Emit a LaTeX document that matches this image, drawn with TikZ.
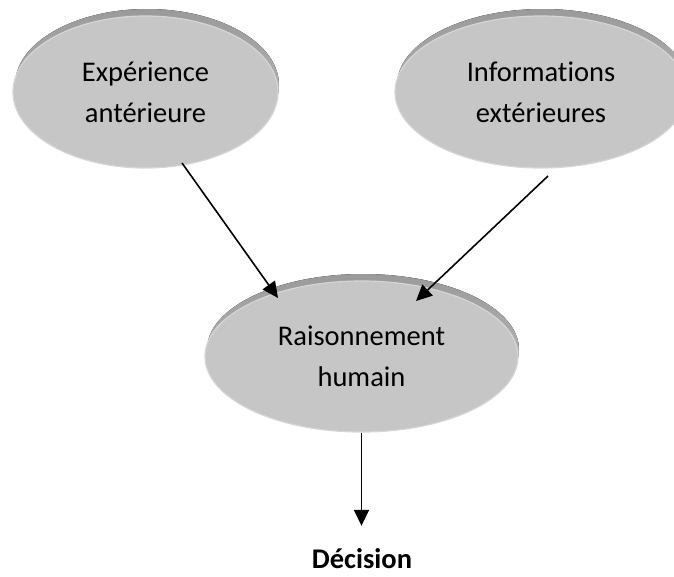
\documentclass[tikz,border=0pt]{standalone}
\usepackage{fontspec}
\setmainfont{Carlito}[Ligatures=NoCommon]
\usetikzlibrary{shapes.geometric,arrows.meta,backgrounds,calc}
\definecolor{face}{HTML}{C6C6C6}
\definecolor{rimtop}{HTML}{9A9A9A}
\definecolor{rimbot}{HTML}{C4C4C4}
\definecolor{edge}{HTML}{D5D5D5}
\begin{document}
\begin{tikzpicture}[x=1pt,y=-1pt,
  disc/.style={ellipse, fill=face, draw=edge, line width=1.2pt, inner sep=0pt,
    align=center, font=\fontsize{28.5}{41}\selectfont},
  rim/.style={top color=rimtop, bottom color=rimbot},
  arr/.style={line width=1.6pt, -{Triangle[length=16pt,width=15pt]}},
  lbl/.style={font=\fontsize{28.5}{34}\selectfont\bfseries, inner sep=0pt, text height=20pt, text depth=0pt}]
\useasboundingbox (0,0) rectangle (674,576);
\clip (0,0) rectangle (674,576);

\node[disc, minimum width=265pt, minimum height=152pt] (e1) at (145.5,92) {Expérience\\antérieure};
\node[disc, minimum width=292pt, minimum height=152pt] (e2) at (541,92) {Informations\\extérieures};
\node[disc, minimum width=313pt, minimum height=151pt] (e3) at (361.5,356.5) {Raisonnement\\humain};
\node[lbl, anchor=base] (dec) at (362,568.5) {Décision};

\begin{scope}[on background layer]
  \fill[rim] ($(e1.center)+(1.5,-7)$) ellipse [x radius=132pt, y radius=76pt];
  \fill[rim] ($(e2.center)+(1.5,-7)$) ellipse [x radius=145.5pt, y radius=76pt];
  \fill[rim] ($(e3.center)+(1.5,-7)$) ellipse [x radius=156pt, y radius=75.5pt];
\end{scope}

\coordinate (s1) at ($(e1.center)+(36.5,71)$);
\coordinate (t1) at ($(e3.center)+(-83.5,-58.5)$);
\coordinate (s2) at ($(e2.center)+(7,84)$);
\coordinate (t2) at ($(e3.center)+(54.5,-55.5)$);

\draw[arr] (s1) -- (t1);
\draw[arr] (s2) -- (t2);
\draw[arr, shorten >=22.5pt] (e3.south) -- (e3.south |- dec.north);
\end{tikzpicture}
\end{document}
